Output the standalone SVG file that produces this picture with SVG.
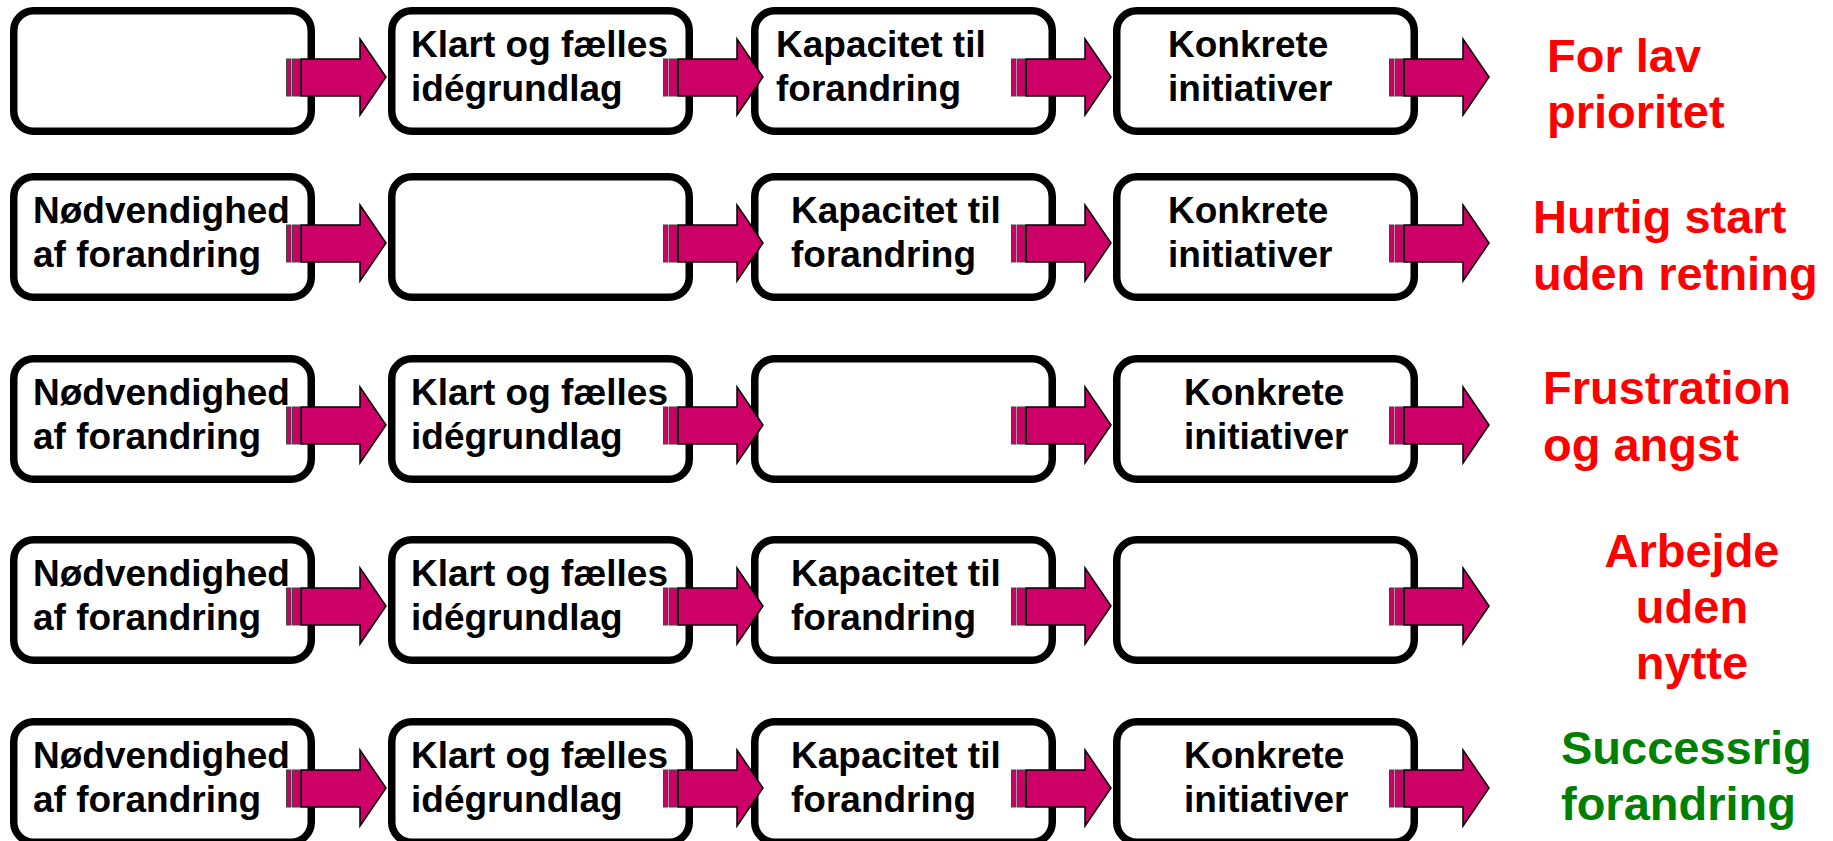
<svg xmlns="http://www.w3.org/2000/svg" width="1833" height="841" viewBox="0 0 1833 841">
<defs>
<style>
.box{fill:#fff;stroke:#000;stroke-width:7.5}
.t{font-family:"Liberation Sans",Arial,sans-serif;font-weight:bold;font-size:37px;fill:#000}
.r{font-family:"Liberation Sans",Arial,sans-serif;font-weight:bold;font-size:47px;fill:#ff0000}
.g{font-family:"Liberation Sans",Arial,sans-serif;font-weight:bold;font-size:47px;fill:#008000}
.ab{fill:#cc0066;stroke:#000;stroke-width:1.5;stroke-linejoin:miter}
.st{fill:#cc0066;stroke:#444;stroke-width:1}
</style>
<g id="arrow">
<rect class="st" x="0.5" y="52" width="4.5" height="37"/>
<rect class="st" x="6.5" y="52" width="7.5" height="37"/>
<path class="ab" d="M15,52 H74 V32 L100,70 L74,108 V89 H15 Z"/>
</g>
</defs>
<rect width="1833" height="841" fill="#fff"/>

<!-- Row 1 -->
<g id="r1c1"><rect class="box" x="13.75" y="10.75" width="297.5" height="120.5" rx="20"/></g>
<g id="r1c2"><rect class="box" x="391.75" y="10.75" width="297.5" height="120.5" rx="20"/>
<text class="t" x="411" y="57">Klart og fælles</text><text class="t" x="411" y="101">idégrundlag</text></g>
<g id="r1c3"><rect class="box" x="754.75" y="10.75" width="297.5" height="120.5" rx="20"/>
<text class="t" x="776" y="57">Kapacitet til</text><text class="t" x="776" y="101">forandring</text></g>
<g id="r1c4"><rect class="box" x="1116.75" y="10.75" width="297.5" height="120.5" rx="20"/>
<text class="t" x="1168" y="57">Konkrete</text><text class="t" x="1168" y="101">initiativer</text></g>
<g id="r1out"><text class="r" x="1547" y="72">For lav</text><text class="r" x="1547" y="128">prioritet</text></g>

<!-- Row 2 -->
<g id="r2c1"><rect class="box" x="13.75" y="176.75" width="297.5" height="120.5" rx="20"/>
<text class="t" x="33" y="223">Nødvendighed</text><text class="t" x="33" y="267">af forandring</text></g>
<g id="r2c2"><rect class="box" x="391.75" y="176.75" width="297.5" height="120.5" rx="20"/></g>
<g id="r2c3"><rect class="box" x="754.75" y="176.75" width="297.5" height="120.5" rx="20"/>
<text class="t" x="791" y="223">Kapacitet til</text><text class="t" x="791" y="267">forandring</text></g>
<g id="r2c4"><rect class="box" x="1116.75" y="176.75" width="297.5" height="120.5" rx="20"/>
<text class="t" x="1168" y="223">Konkrete</text><text class="t" x="1168" y="267">initiativer</text></g>
<g id="r2out"><text class="r" x="1533" y="233">Hurtig start</text><text class="r" x="1533" y="290">uden retning</text></g>

<!-- Row 3 -->
<g id="r3c1"><rect class="box" x="13.75" y="358.75" width="297.5" height="120.5" rx="20"/>
<text class="t" x="33" y="405">Nødvendighed</text><text class="t" x="33" y="449">af forandring</text></g>
<g id="r3c2"><rect class="box" x="391.75" y="358.75" width="297.5" height="120.5" rx="20"/>
<text class="t" x="411" y="405">Klart og fælles</text><text class="t" x="411" y="449">idégrundlag</text></g>
<g id="r3c3"><rect class="box" x="754.75" y="358.75" width="297.5" height="120.5" rx="20"/></g>
<g id="r3c4"><rect class="box" x="1116.75" y="358.75" width="297.5" height="120.5" rx="20"/>
<text class="t" x="1184" y="405">Konkrete</text><text class="t" x="1184" y="449">initiativer</text></g>
<g id="r3out"><text class="r" x="1543" y="404">Frustration</text><text class="r" x="1543" y="461">og angst</text></g>

<!-- Row 4 -->
<g id="r4c1"><rect class="box" x="13.75" y="539.75" width="297.5" height="120.5" rx="20"/>
<text class="t" x="33" y="586">Nødvendighed</text><text class="t" x="33" y="630">af forandring</text></g>
<g id="r4c2"><rect class="box" x="391.75" y="539.75" width="297.5" height="120.5" rx="20"/>
<text class="t" x="411" y="586">Klart og fælles</text><text class="t" x="411" y="630">idégrundlag</text></g>
<g id="r4c3"><rect class="box" x="754.75" y="539.75" width="297.5" height="120.5" rx="20"/>
<text class="t" x="791" y="586">Kapacitet til</text><text class="t" x="791" y="630">forandring</text></g>
<g id="r4c4"><rect class="box" x="1116.75" y="539.75" width="297.5" height="120.5" rx="20"/></g>
<g id="r4out"><text class="r" text-anchor="middle" x="1692" y="567">Arbejde</text><text class="r" text-anchor="middle" x="1692" y="623">uden</text><text class="r" text-anchor="middle" x="1692" y="679">nytte</text></g>

<!-- Row 5 -->
<g id="r5c1"><rect class="box" x="13.75" y="721.75" width="297.5" height="120.5" rx="20"/>
<text class="t" x="33" y="768">Nødvendighed</text><text class="t" x="33" y="812">af forandring</text></g>
<g id="r5c2"><rect class="box" x="391.75" y="721.75" width="297.5" height="120.5" rx="20"/>
<text class="t" x="411" y="768">Klart og fælles</text><text class="t" x="411" y="812">idégrundlag</text></g>
<g id="r5c3"><rect class="box" x="754.75" y="721.75" width="297.5" height="120.5" rx="20"/>
<text class="t" x="791" y="768">Kapacitet til</text><text class="t" x="791" y="812">forandring</text></g>
<g id="r5c4"><rect class="box" x="1116.75" y="721.75" width="297.5" height="120.5" rx="20"/>
<text class="t" x="1184" y="768">Konkrete</text><text class="t" x="1184" y="812">initiativer</text></g>
<g id="r5out"><text class="g" x="1561" y="764">Successrig</text><text class="g" x="1561" y="820">forandring</text></g>

<!-- Connectors -->
<g id="connectors">
<use href="#arrow" x="286" y="7"/><use href="#arrow" x="663" y="7"/><use href="#arrow" x="1011" y="7"/><use href="#arrow" x="1389" y="7"/>
<use href="#arrow" x="286" y="173"/><use href="#arrow" x="663" y="173"/><use href="#arrow" x="1011" y="173"/><use href="#arrow" x="1389" y="173"/>
<use href="#arrow" x="286" y="355"/><use href="#arrow" x="663" y="355"/><use href="#arrow" x="1011" y="355"/><use href="#arrow" x="1389" y="355"/>
<use href="#arrow" x="286" y="536"/><use href="#arrow" x="663" y="536"/><use href="#arrow" x="1011" y="536"/><use href="#arrow" x="1389" y="536"/>
<use href="#arrow" x="286" y="718"/><use href="#arrow" x="663" y="718"/><use href="#arrow" x="1011" y="718"/><use href="#arrow" x="1389" y="718"/>
</g>
</svg>
